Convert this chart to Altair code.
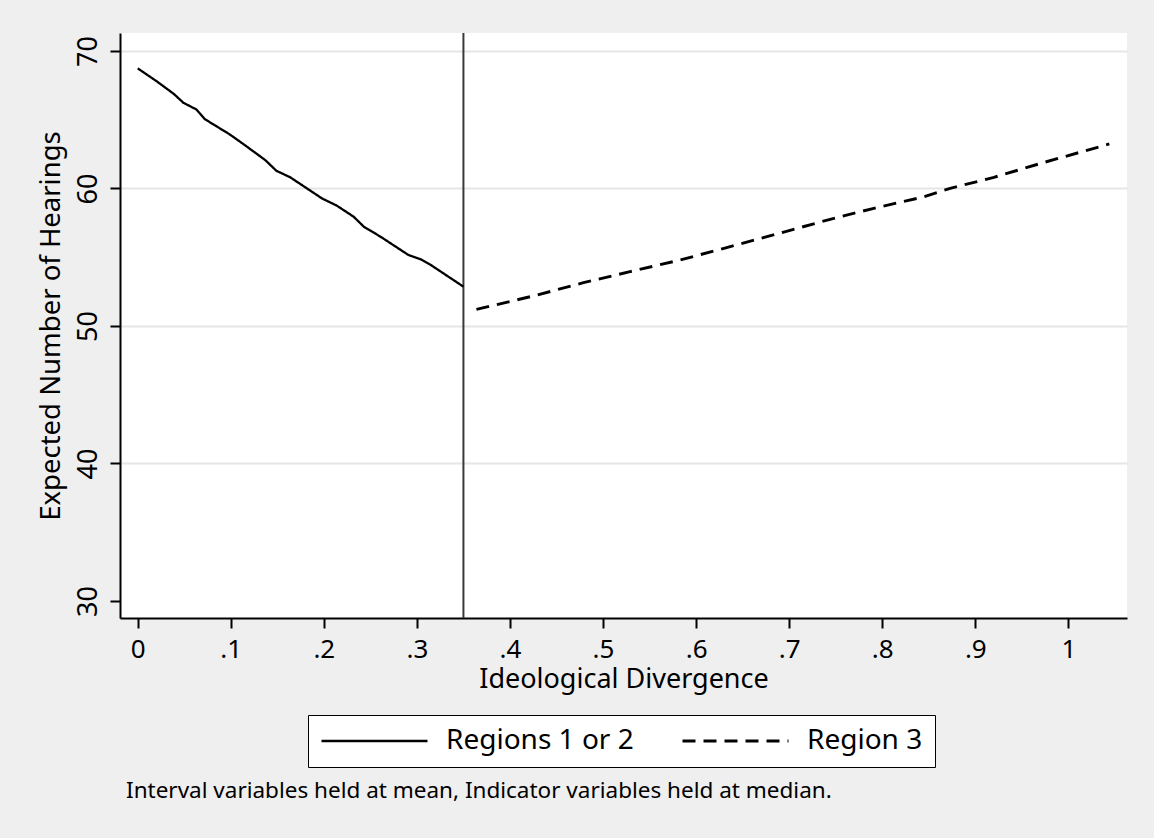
import altair as alt
import pandas as pd

# Series 1: Regions 1 or 2 (solid)
x1 = [0.0, 0.021, 0.039, 0.049, 0.063, 0.072, 0.099, 0.114, 0.137, 0.149, 0.164,
      0.198, 0.214, 0.232, 0.243, 0.261, 0.291, 0.304, 0.314, 0.35]
y1 = [68.74, 67.77, 66.87, 66.24, 65.75, 65.05, 63.93, 63.21, 62.07, 61.29, 60.81,
      59.28, 58.75, 57.95, 57.22, 56.49, 55.16, 54.85, 54.48, 52.86]

# Series 2: Region 3 (dashed)
x2 = [0.364, 0.425, 0.479, 0.529, 0.583, 0.630, 0.683, 0.744, 0.791, 0.845, 0.873,
      0.920, 0.974, 1.044]
y2 = [51.21, 52.18, 53.15, 53.95, 54.80, 55.65, 56.62, 57.76, 58.56, 59.40, 60.01,
      60.81, 61.90, 63.24]

series_names = ["Regions 1 or 2", "Region 3"]
cutoff = [0.35]
x_ticks = [0, 0.1, 0.2, 0.3, 0.4, 0.5, 0.6, 0.7, 0.8, 0.9, 1.0]
y_ticks = [30, 40, 50, 60, 70]
note = "Interval variables held at mean, Indicator variables held at median."

df = pd.DataFrame({
    "x": x1 + x2,
    "y": y1 + y2,
    "series": [series_names[0]] * len(x1) + [series_names[1]] * len(x2),
})

FONT = "Noto Sans"

xscale = alt.Scale(domain=[-0.019, 1.063], nice=False, zero=False)
yscale = alt.Scale(domain=[28.76, 71.31], nice=False, zero=False)

lines = alt.Chart(df).mark_line(color="black").encode(
    x=alt.X("x:Q", scale=xscale, title="Ideological Divergence",
            axis=alt.Axis(values=x_ticks, grid=False,
                          labelExpr="datum.value == 0 ? '0' : datum.value == 1 ? '1' : replace(format(datum.value, '.1f'), '0.', '.')",
                          labelFontSize=26, labelPadding=8, titlePadding=4,
                          titleFontSize=27)),
    y=alt.Y("y:Q", scale=yscale, title="Expected Number of Hearings",
            axis=alt.Axis(values=y_ticks, grid=True, labelAngle=-90,
                          labelAlign="center", labelBaseline="bottom",
                          labelFontSize=27, titleFontSize=27.5,
                          labelPadding=8, titlePadding=9,
                          gridColor={"condition": {"test": "datum.value == 30", "value": "transparent"},
                                     "value": "#e6e6e6"})),
    strokeDash=alt.StrokeDash(
        "series:N",
        scale=alt.Scale(domain=series_names, range=[[1, 0], [13, 8]]),
        legend=alt.Legend(title=None, orient="none", legendX=188, legendY=682,
                          direction="horizontal", columns=2,
                          symbolType="stroke", symbolSize=11236,
                          symbolStrokeWidth=2, symbolStrokeColor="black",
                          clipHeight=28, labelOffset=17, columnPadding=47,
                          padding=12, fillColor="white", strokeColor="black",
                          labelFont=FONT, labelFontSize=28, labelColor="black",
                          labelLimit=400),
    ),
    strokeWidth=alt.StrokeWidth(
        "series:N",
        scale=alt.Scale(domain=series_names, range=[2.3, 2.9]),
        legend=None,
    ),
    detail="series:N",
)

rule = alt.Chart(pd.DataFrame({"c": cutoff})).mark_rule(
    color="#3a3a3a", strokeWidth=2
).encode(x=alt.X("c:Q", scale=xscale))

chart = alt.layer(rule, lines).properties(
    width=1007,
    height=585,
    autosize=alt.AutoSizeParams(type="none"),
    padding={"left": 120, "top": 33, "right": 27, "bottom": 220},
    background="#efefef",
    title=alt.TitleParams(text=note, orient="bottom", anchor="start", frame="group",
                          font=FONT, fontSize=22.5, fontWeight="normal",
                          color="black", offset=12, dx=6),
).configure_view(
    fill="white", stroke=None
).configure_axis(
    domainColor="black", domainWidth=2, tickColor="black", tickWidth=2,
    tickSize=10, labelFont=FONT, labelColor="black",
    titleFont=FONT, titleFontWeight="normal", titleColor="black",
    gridWidth=2,
)

chart.save("out.html", embed_options={"renderer": "svg", "actions": False})
